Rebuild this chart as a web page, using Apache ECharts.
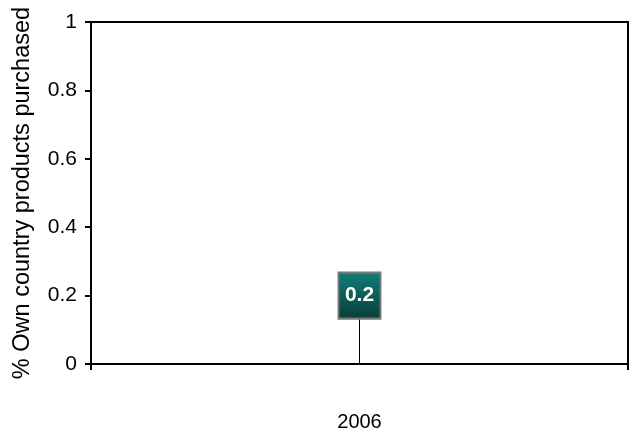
<!DOCTYPE html>
<html>
<head>
<meta charset="utf-8">
<script src="https://cdn.jsdelivr.net/npm/echarts@6/dist/echarts.min.js"></script>
<style>
  html, body { margin: 0; padding: 0; background: #fff; }
  #chart { width: 630px; height: 432px; }
</style>
</head>
<body>
<div id="chart"></div>
<script>
// chart data
const years = ['2006'];
const ownCountryShare = [0.2];
const yTicks = [0, 0.2, 0.4, 0.6, 0.8, 1];

const myChart = echarts.init(document.getElementById('chart'));

const options = {
  animation: false,
  textStyle: { fontFamily: 'Liberation Sans, Arial, sans-serif' },
  grid: {
    left: 91,
    right: 2,
    top: 22,
    bottom: 68,
    show: true,
    borderColor: '#000',
    borderWidth: 2
  },
  xAxis: {
    type: 'category',
    data: years,
    boundaryGap: true,
    axisLine: { lineStyle: { color: '#000', width: 2 } },
    axisTick: { show: true, length: 6, lineStyle: { color: '#000', width: 2 } },
    axisLabel: { color: '#000', fontSize: 20, margin: 48 }
  },
  yAxis: {
    type: 'value',
    min: yTicks[0],
    max: yTicks[yTicks.length - 1],
    interval: 0.2,
    name: '% Own country products purchased',
    nameLocation: 'middle',
    nameGap: 56,
    nameTextStyle: { color: '#000', fontSize: 23.5 },
    splitLine: { show: false },
    axisLine: { show: true, lineStyle: { color: '#000', width: 2 } },
    axisTick: { show: true, length: 6, lineStyle: { color: '#000', width: 2 } },
    axisLabel: {
      color: '#000',
      fontSize: 21,
      margin: 14,
      formatter: v => String(Math.round(v * 10) / 10)
    }
  },
  series: [
    {
      type: 'bar',
      data: ownCountryShare,
      barWidth: 1,
      itemStyle: { color: '#000' },
      z: 2
    },
    {
      type: 'scatter',
      data: ownCountryShare,
      symbol: 'rect',
      symbolSize: [42, 46],
      itemStyle: {
        opacity: 1,
        color: new echarts.graphic.LinearGradient(0, 0, 0, 1, [
          { offset: 0, color: '#127d77' },
          { offset: 1, color: '#093c39' }
        ]),
        borderColor: '#777',
        borderWidth: 2
      },
      label: {
        show: true,
        position: 'inside',
        color: '#fff',
        fontWeight: 'bold',
        fontSize: 21,
        formatter: p => String(p.value)
      },
      z: 3
    }
  ]
};

myChart.setOption(options);
</script>
</body>
</html>
